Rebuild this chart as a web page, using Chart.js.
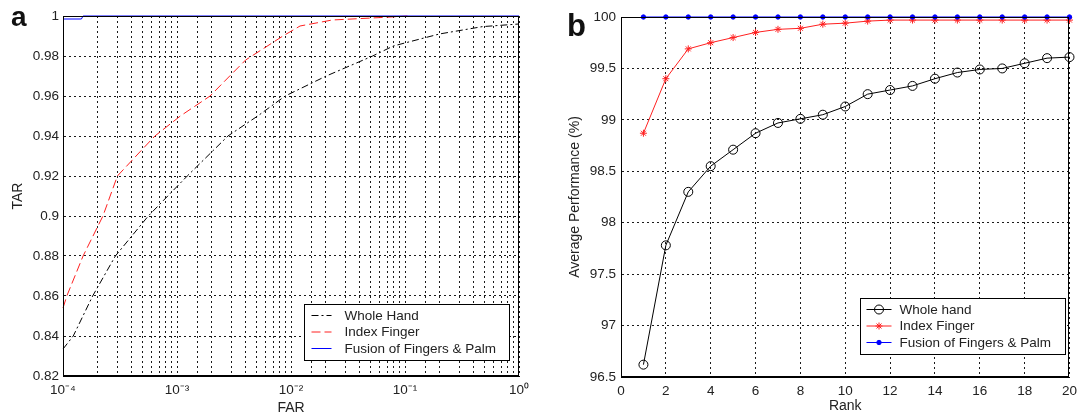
<!DOCTYPE html>
<html>
<head>
<meta charset="utf-8">
<script src="https://cdn.jsdelivr.net/npm/chart.js@4.4.1/dist/chart.umd.min.js"></script>
<style>
  html, body { margin: 0; padding: 0; background: #fff; }
  body { width: 1083px; height: 418px; position: relative; overflow: hidden; }
  .panel { position: absolute; top: 0; height: 418px; }
  #left { left: 0; width: 540px; }
  #right { left: 540px; width: 543px; }
  .tag { position: absolute; font-family: "Liberation Sans", Arial, sans-serif; font-weight: bold; line-height: 1; color: #111; }
</style>
</head>
<body>
<div class="panel" id="left"><canvas id="roc"></canvas></div>
<div class="panel" id="right"><canvas id="cmc"></canvas></div>
<div class="tag" id="tagA" style="left:11px; top:3px; font-size:28px;">a</div>
<div class="tag" id="tagB" style="left:567px; top:10px; font-size:31px;">b</div>
<script>
/* ---- (a) ROC data: FAR / TAR per method ---- */
const HAND_FAR = [1e-4, 1.23e-4, 1.82e-4, 2.88e-4, 5.6e-4, 1.23e-3, 2.8e-3, 5.1e-3, 8.9e-3, 0.0204, 0.052, 0.079, 0.20, 0.48, 1];
const HAND_TAR = [0.8335, 0.840, 0.860, 0.880, 0.900, 0.920, 0.940, 0.950, 0.960, 0.970, 0.980, 0.985, 0.991, 0.9947, 0.996];

const INDEX_FAR = [1e-4, 1.08e-4, 1.5e-4, 2.24e-4, 3.0e-4, 4.9e-4, 6.4e-4, 1.07e-3, 1.95e-3, 2.9e-3, 4.0e-3, 8.5e-3, 0.012, 0.023, 0.065, 0.105];
const INDEX_TAR = [0.854, 0.860, 0.880, 0.900, 0.920, 0.933, 0.940, 0.950, 0.960, 0.970, 0.978, 0.990, 0.995, 0.998, 0.9993, 1.0];

const FUSION_FAR = [1e-4, 1.45e-4, 1.5e-4, 1];
const FUSION_TAR = [0.9985, 0.9985, 1.0, 1.0];

const ROC_LABELS = ["Whole Hand", "Index Finger", "Fusion of Fingers & Palm"];

/* ---- (b) CMC data ---- */
const RANKS = [1, 2, 3, 4, 5, 6, 7, 8, 9, 10, 11, 12, 13, 14, 15, 16, 17, 18, 19, 20];
const HAND_CMC = [96.62, 97.78, 98.30, 98.55, 98.71, 98.87, 98.97, 99.01, 99.05, 99.13, 99.25, 99.29, 99.33, 99.40, 99.46, 99.49, 99.50, 99.55, 99.60, 99.61];
const INDEX_CMC = [98.87, 99.40, 99.69, 99.75, 99.80, 99.85, 99.88, 99.89, 99.93, 99.94, 99.96, 99.97, 99.97, 99.97, 99.97, 99.97, 99.97, 99.97, 99.97, 99.97];
const FUSION_CMC = [100, 100, 100, 100, 100, 100, 100, 100, 100, 100, 100, 100, 100, 100, 100, 100, 100, 100, 100, 100];

const CMC_LABELS = ["Whole hand", "Index Finger", "Fusion of Fingers & Palm"];

/* ---- shared look ---- */
const FONT = '"Liberation Sans", Arial, Helvetica, sans-serif';
const TEXT = "#222";
Chart.defaults.font.family = FONT;
Chart.defaults.color = TEXT;

const GRID = { color: "#1a1a1a", lineWidth: 1, drawTicks: false };
const BORDER = { display: true, color: "#000", width: 1, dash: [2, 3] };
const TICK_FONT = { size: 13.5 };
const TITLE_FONT = { size: 14 };

const SUP = { "-": "\u207B", "0": "\u2070", "1": "\u00B9", "2": "\u00B2", "3": "\u00B3", "4": "\u2074" };
function powLabel(v) {
  const e = Math.log10(v);
  if (Math.abs(e - Math.round(e)) > 1e-9) return "";
  return "10" + String(Math.round(e)).split("").map((c) => SUP[c]).join("");
}

const zip = (xs, ys) => xs.map((x, i) => ({ x, y: ys[i] }));

/* box round the plot area (MATLAB "box on") */
const framePlugin = {
  id: "frame",
  afterDraw(chart) {
    const { ctx, chartArea: a } = chart;
    const l = Math.round(a.left) + 0.5, t = Math.round(a.top) + 0.5;
    const r = Math.round(a.right) - 0.5, b = Math.round(a.bottom) - 0.5;
    ctx.save();
    ctx.strokeStyle = "#000";
    ctx.lineWidth = 1;
    ctx.setLineDash([]);
    ctx.strokeRect(l, t, r - l, b - t);
    ctx.restore();
  },
};

/* boxed legend drawn inside the plot, bottom-right */
const boxLegendPlugin = {
  id: "boxLegend",
  afterDraw(chart, args, o) {
    if (!o || !o.width) return;
    const { ctx, chartArea: a } = chart;
    const x0 = Math.round(a.right - o.right - o.width) + 0.5;
    const y0 = Math.round(a.bottom - o.bottom - o.height) + 0.5;
    ctx.save();
    ctx.fillStyle = "#fff";
    ctx.fillRect(x0, y0, o.width, o.height);
    ctx.strokeStyle = "#000";
    ctx.lineWidth = 1;
    ctx.setLineDash([]);
    ctx.strokeRect(x0, y0, o.width, o.height);
    ctx.font = o.fontSize + "px " + FONT;
    ctx.textBaseline = "middle";
    chart.data.datasets.forEach((ds, i) => {
      const y = y0 + o.firstRow + i * o.rowGap;
      ctx.strokeStyle = ds.borderColor;
      ctx.lineWidth = ds.borderWidth || 1;
      ctx.setLineDash(ds.borderDash || []);
      ctx.beginPath();
      ctx.moveTo(x0 + o.lineStart, y);
      ctx.lineTo(x0 + o.lineEnd, y);
      ctx.stroke();
      ctx.setLineDash([]);
      if (ds.pointRadius) {
        ctx.fillStyle = ds.pointBackgroundColor;
        ctx.strokeStyle = ds.pointBorderColor;
        Chart.helpers.drawPoint(ctx, {
          pointStyle: ds.pointStyle, radius: ds.pointRadius, rotation: 0, borderWidth: 1,
        }, x0 + (o.lineStart + o.lineEnd) / 2, y);
      }
      ctx.fillStyle = TEXT;
      ctx.fillText(ds.label, x0 + o.textStart, y + 0.5);
    });
    ctx.restore();
  },
};

Chart.register(framePlugin, boxLegendPlugin);

/* ---- (a) ROC curves, log FAR axis ---- */
new Chart(document.getElementById("roc"), {
  type: "line",
  data: {
    datasets: [
      {
        label: ROC_LABELS[0], data: zip(HAND_FAR, HAND_TAR),
        borderColor: "#000", borderWidth: 1, borderDash: [7, 3, 2, 3],
        pointRadius: 0, order: 3,
      },
      {
        label: ROC_LABELS[1], data: zip(INDEX_FAR, INDEX_TAR),
        borderColor: "#ff2020", borderWidth: 1, borderDash: [9, 4],
        pointRadius: 0, order: 2,
      },
      {
        label: ROC_LABELS[2], data: zip(FUSION_FAR, FUSION_TAR),
        borderColor: "#0000ff", borderWidth: 1,
        pointRadius: 0, order: 1,
      },
    ],
  },
  options: {
    responsive: true,
    maintainAspectRatio: false,
    animation: false,
    clip: false,
    layout: { padding: { top: 16, right: 21, left: 0, bottom: 0 } },
    plugins: {
      legend: { display: false },
      tooltip: { enabled: false },
      boxLegend: {
        right: 10, bottom: 16, width: 205, height: 56,
        firstRow: 11, rowGap: 16.5, lineStart: 7, lineEnd: 27, textStart: 40, fontSize: 13.5,
      },
    },
    scales: {
      x: {
        type: "logarithmic", min: 1e-4, max: 1,
        grid: GRID, border: BORDER,
        ticks: { font: TICK_FONT, padding: 6, autoSkip: false, maxRotation: 0, callback: powLabel },
        title: { display: true, text: "FAR", font: TITLE_FONT, padding: { top: 0, bottom: 1 } },
        afterFit: (s) => { s.height = 42; },
      },
      y: {
        min: 0.82, max: 1,
        grid: GRID, border: BORDER,
        ticks: { font: TICK_FONT, padding: 4, stepSize: 0.02, callback: (v) => String(Number(v.toFixed(2))) },
        title: { display: true, text: "TAR", font: TITLE_FONT, padding: { top: 10, bottom: 0 } },
        afterFit: (s) => { s.width = 63; },
      },
    },
  },
});

/* ---- (b) CMC curves ---- */
new Chart(document.getElementById("cmc"), {
  type: "line",
  data: {
    labels: RANKS,
    datasets: [
      {
        label: CMC_LABELS[0], data: zip(RANKS, HAND_CMC),
        borderColor: "#000", borderWidth: 1,
        pointStyle: "circle", pointRadius: 4.5, pointBorderWidth: 1,
        pointBorderColor: "#000", pointBackgroundColor: "rgba(0,0,0,0)", order: 3,
      },
      {
        label: CMC_LABELS[1], data: zip(RANKS, INDEX_CMC),
        borderColor: "#ff2020", borderWidth: 1,
        pointStyle: "star", pointRadius: 3.5, pointBorderWidth: 1,
        pointBorderColor: "#ff2020", pointBackgroundColor: "#ff2020", order: 2,
      },
      {
        label: CMC_LABELS[2], data: zip(RANKS, FUSION_CMC),
        borderColor: "#0000ff", borderWidth: 1,
        pointStyle: "circle", pointRadius: 2.2, pointBorderWidth: 1,
        pointBorderColor: "#0000ff", pointBackgroundColor: "#0000ff", order: 1,
      },
    ],
  },
  options: {
    responsive: true,
    maintainAspectRatio: false,
    animation: false,
    clip: false,
    layout: { padding: { top: 17, right: 6, left: 0, bottom: 0 } },
    plugins: {
      legend: { display: false },
      tooltip: { enabled: false },
      boxLegend: {
        right: 4, bottom: 23, width: 205, height: 56,
        firstRow: 11, rowGap: 16.5, lineStart: 6, lineEnd: 31, textStart: 39, fontSize: 13.5,
      },
    },
    scales: {
      x: {
        type: "linear", min: 0, max: 20,
        grid: GRID, border: BORDER,
        ticks: { font: TICK_FONT, padding: 6, stepSize: 2, maxRotation: 0 },
        title: { display: true, text: "Rank", font: TITLE_FONT, padding: { top: 0, bottom: 3 } },
        afterFit: (s) => { s.height = 41; },
      },
      y: {
        min: 96.5, max: 100,
        grid: GRID, border: BORDER,
        ticks: { font: TICK_FONT, padding: 5, stepSize: 0.5, callback: (v) => String(Number(v.toFixed(1))) },
        title: { display: true, text: "Average Performance (%)", font: TITLE_FONT, padding: { top: 27, bottom: 0 } },
        afterFit: (s) => { s.width = 81; },
      },
    },
  },
});
</script>
</body>
</html>
